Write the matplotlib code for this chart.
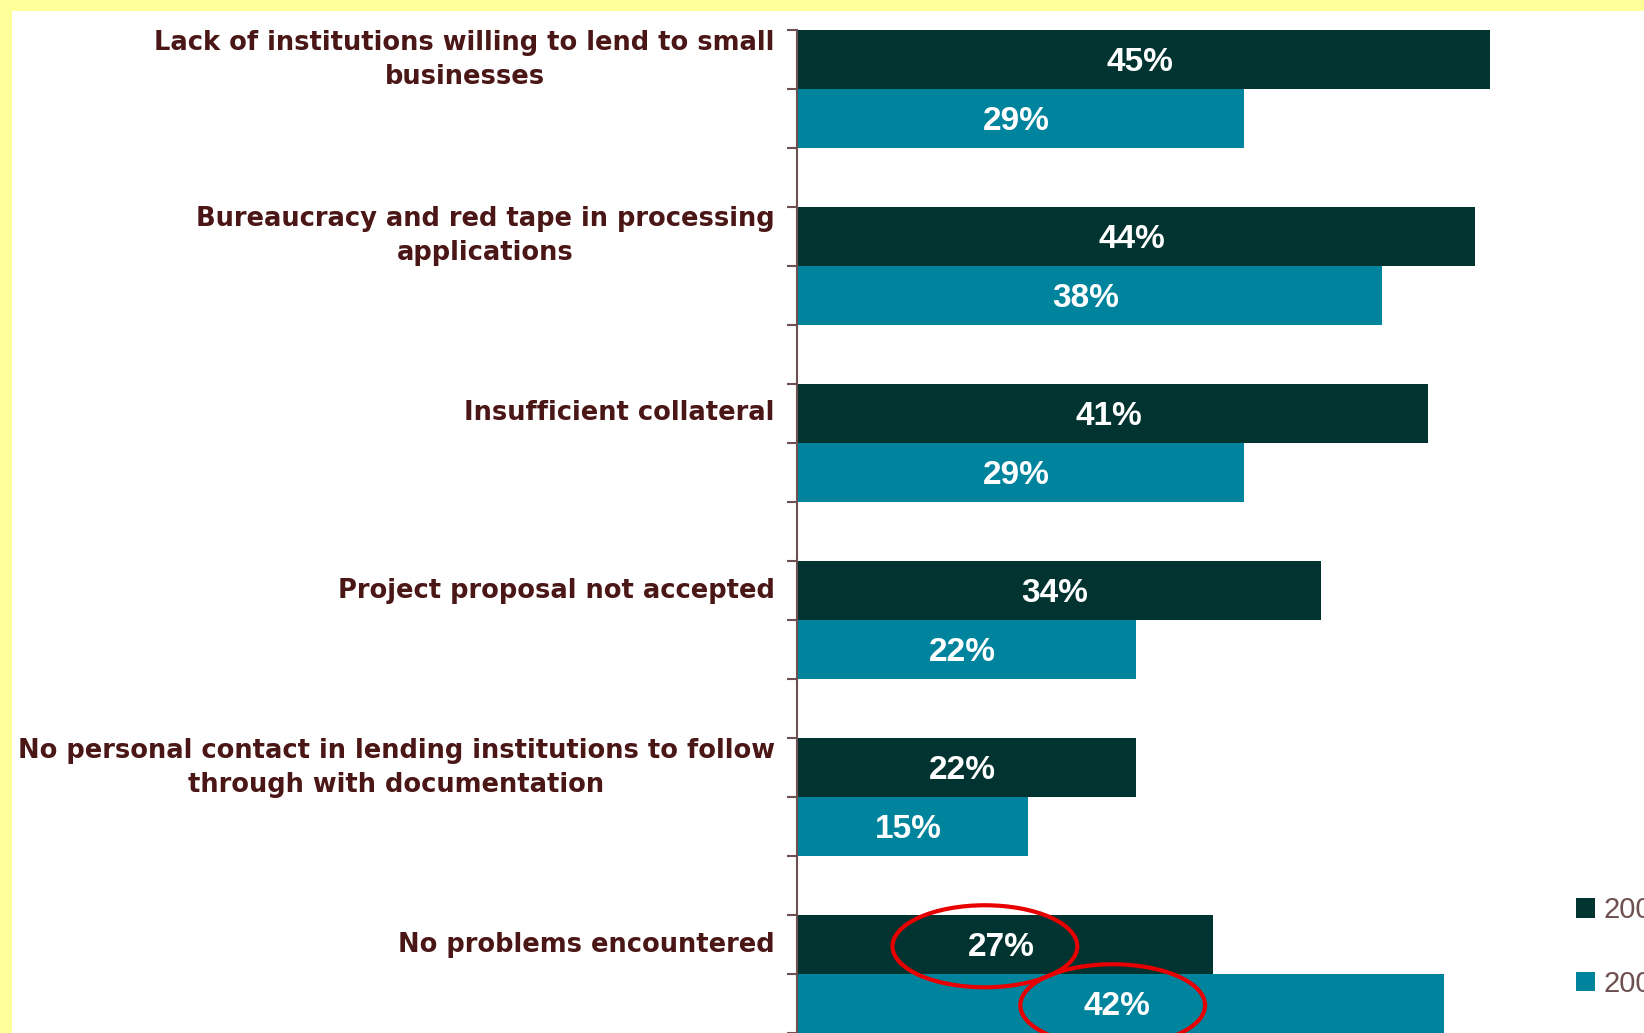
import matplotlib
matplotlib.use('Agg')
import matplotlib.pyplot as plt
from matplotlib.patches import Rectangle, Ellipse

# dati
categorie = ['Lack of institutions willing to lend to small\nbusinesses',
             'Bureaucracy and red tape in processing\napplications',
             'Insufficient collateral',
             'Project proposal not accepted',
             'No personal contact in lending institutions to follow\nthrough with documentation',
             'No problems encountered']
serie_a = [45, 44, 41, 34, 22, 27]
serie_b = [29, 38, 29, 22, 15, 42]
anni = ['2006', '2008']
# (categoria, serie, spostamento orizzontale) cerchiati in rosso
evidenziati = [(5, 0, -1.3), (5, 1, -0.5)]

col_a = '#013431'
col_b = '#00849d'
col_testo = '#4a1616'
col_asse = '#6e5050'

W, H = 1644, 1033
fig = plt.figure(figsize=(W / 100, H / 100), dpi=100)
fig.patch.set_facecolor('#ffff99')
fig.patches.append(Rectangle((12 / W, 0), 1, 1 - 11 / H, transform=fig.transFigure,
                             facecolor='white', edgecolor='none', zorder=-5))

x0 = 797
px_per_pct = 15.4
ax = fig.add_axes([x0 / W, 0, 1 - x0 / W, (H - 30) / H])
ax.set_facecolor('none')
ax.set_xlim(0, (W - x0) / px_per_pct)
ax.set_ylim(17.0, 0)

pos_a = [3 * i + 0.5 for i in range(len(categorie))]
pos_b = [3 * i + 1.5 for i in range(len(categorie))]
ax.barh(pos_a, serie_a, height=1.0, color=col_a, label=anni[0], zorder=2)
ax.barh(pos_b, serie_b, height=1.0, color=col_b, label=anni[1], zorder=2)

for y, v in zip(pos_a, serie_a):
    ax.text(v / 2 - 0.25, y + 0.05, f'{v}%', color='white', fontsize=24, fontweight='bold',
            ha='center', va='center', family='Liberation Sans', zorder=3)
for y, v in zip(pos_b, serie_b):
    ax.text(v / 2 - 0.25, y + 0.05, f'{v}%', color='white', fontsize=24, fontweight='bold',
            ha='center', va='center', family='Liberation Sans', zorder=3)

# ellissi rosse
for c, s, dx in evidenziati:
    v = serie_a[c] if s == 0 else serie_b[c]
    y = pos_a[c] if s == 0 else pos_b[c]
    ax.add_patch(Ellipse((v / 2 + dx, y + 0.03), 12.0, 1.39, fill=False,
                         edgecolor='#e80000', linewidth=3, zorder=4, clip_on=False))

# assi
for s in ['top', 'right', 'bottom']:
    ax.spines[s].set_visible(False)
ax.spines['left'].set_color(col_asse)
ax.spines['left'].set_linewidth(1.5)
ax.set_xticks([])
ax.set_yticks(pos_a)
ax.set_yticklabels(categorie)
ax.set_yticks(range(0, 18), minor=True)
ax.tick_params(axis='y', which='major', length=0, pad=16)
ax.tick_params(axis='y', which='minor', length=7, width=1.5, color=col_asse)
for lab in ax.get_yticklabels():
    lab.set_multialignment('center')
    lab.set_fontsize(18.5)
    lab.set_fontweight('bold')
    lab.set_family('DejaVu Sans')
    lab.set_color(col_testo)
    lab.set_linespacing(1.4)
    lab.set_verticalalignment('center')

fig.legend(loc='center left', bbox_to_anchor=(1561 / W, 1 - 947 / H), frameon=False,
           fontsize=20, handlelength=0.65, handleheight=0.65, handletextpad=0.3,
           labelspacing=1.55, borderpad=0, labelcolor='#6e5050',
           prop={'family': 'Liberation Sans', 'size': 21})

plt.savefig('out.png', dpi=100)
